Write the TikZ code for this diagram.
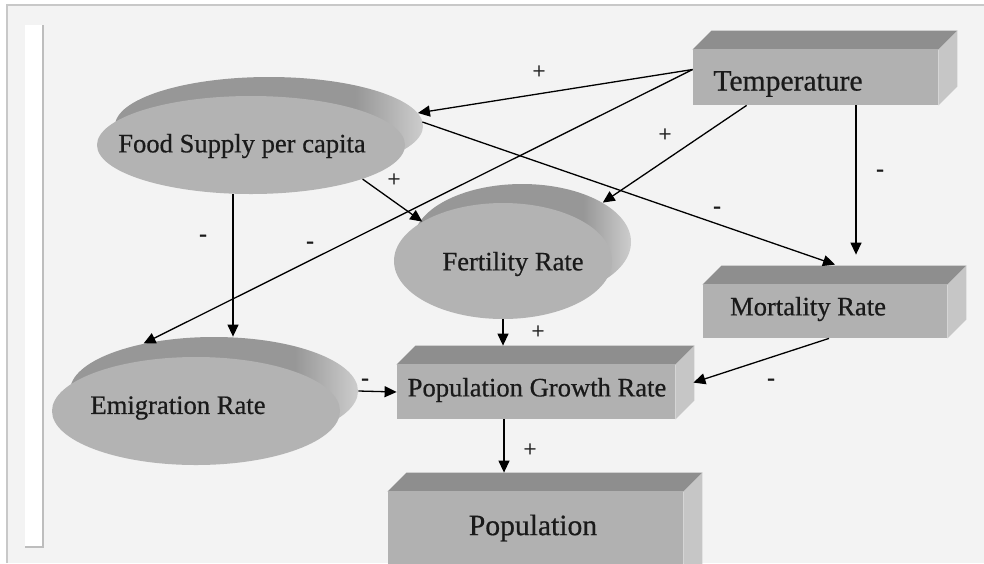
\documentclass[tikz,border=0pt]{standalone}
\usepackage{fontspec}
\setmainfont{Liberation Serif}[FakeBold=0.6]
\newfontfamily\heavyserif{Liberation Serif}[FakeBold=1.2]
\usetikzlibrary{shapes.geometric,arrows.meta,calc}
\definecolor{bgc}{HTML}{F3F3F3}
\definecolor{framec}{HTML}{C8C8C8}
\definecolor{stripc}{HTML}{BDBDBD}
\definecolor{frontc}{HTML}{B1B1B1}
\definecolor{topc}{HTML}{8E8E8E}
\definecolor{sidec}{HTML}{C6C6C6}
\definecolor{ovalc}{HTML}{B3B3B3}
\definecolor{ebk}{HTML}{979797}
\definecolor{ebl}{HTML}{CDCDCD}
\definecolor{txtc}{HTML}{1A1A1A}
\pgfdeclarehorizontalshading{backsh}{100bp}{color(0bp)=(ebk); color(25bp)=(ebk); color(64bp)=(ebk); color(75bp)=(ebl); color(100bp)=(ebl)}
\newcommand\boxfaces[1]{%
  \fill[topc] (#1.north west) -- ++(19,-19) -- ($(#1.north east)+(19,-19)$) -- (#1.north east) -- cycle;
  \fill[sidec] (#1.north east) -- ++(19,-19) -- ($(#1.south east)+(19,-19)$) -- (#1.south east) -- cycle;}
\begin{document}
\begin{tikzpicture}[x=0.5pt,y=-0.5pt,
  box/.style={rectangle, fill=frontc, inner sep=0pt},
  oval/.style={ellipse, fill=ovalc, inner sep=0pt},
  ovalback/.style={ellipse, shade, shading=backsh, inner sep=0pt},
  lbl/.style={text=txtc, font=\fontsize{13.3}{16}\selectfont, inner sep=0pt},
  biglbl/.style={text=txtc, font=\fontsize{14.8}{17}\selectfont, inner sep=0pt},
  sign/.style={text=txtc, font=\fontsize{11.5}{13}\selectfont, inner sep=0pt},
  minus/.style={text=txtc, font=\heavyserif\fontsize{11.5}{13}\selectfont, inner sep=0pt},
  link/.style={-{Triangle[length=6pt,width=5.5pt]}, line width=0.65pt}]
\useasboundingbox (0,0) rectangle (984,563);
\clip (0,0) rectangle (984,563);
% background and frame
\fill[white] (0,0) rectangle (984,563);
\fill[bgc] (7,5) rectangle (984,563);
\draw[framec, line width=1pt] (7,563) -- (7,5) -- (984,5);
\fill[white] (25,25) rectangle (43,547);
\draw[stripc, line width=1pt] (43,25) -- (43,547) -- (25,547);

% boxes
\node[box, minimum width=122.5pt, minimum height=27.5pt] (temp) at (815.5,77.5) {};
\boxfaces{temp}
\node[box, minimum width=122pt, minimum height=26.5pt] (mort) at (825,311.5) {};
\boxfaces{mort}
\node[box, minimum width=139pt, minimum height=27pt] (pgr) at (536,392) {};
\boxfaces{pgr}
\node[box, minimum width=147.5pt, minimum height=48pt] (pop) at (535.5,540) {};
\boxfaces{pop}

% ellipses
\node[ovalback, minimum width=154pt, minimum height=49pt] (foodB) at (269,126) {};
\node[oval, minimum width=154pt, minimum height=49pt] (food) at (251,145) {};
\node[ovalback, minimum width=109pt, minimum height=58pt] (fertB) at (522,242) {};
\node[oval, minimum width=109pt, minimum height=58pt] (fert) at (503,261) {};
\node[ovalback, minimum width=144pt, minimum height=54pt] (emigB) at (214,391) {};
\node[oval, minimum width=144pt, minimum height=54pt] (emig) at (196,411) {};

% texts
\node[biglbl] (tempT) at (788,84) {Temperature};
\node[lbl] (mortT) at (808,309) {Mortality Rate};
\node[lbl] (pgrT) at (537,390) {Population Growth Rate};
\node[biglbl] (popT) at (533,528) {Population};
\node[lbl] (foodT) at (242,146) {Food Supply per capita};
\node[lbl] (fertT) at (513,264) {Fertility Rate};
\node[lbl] (emigT) at (178,408) {Emigration Rate};

% connector end points
\coordinate (tA) at ($(temp.west)+(0,-8)$);
\coordinate (tB) at ($(temp.south west)+(54,0)$);
\coordinate (tC) at ($(temp.south)+(40.5,0)$);
\coordinate (mA) at ($(mort.north)+(31,-30)$);
\coordinate (mB) at ($(mort.north)+(10,-20)$);
\coordinate (fA) at ($(foodB.east)+(-1,-4)$);
\coordinate (fB) at ($(food.south)+(-18,0)$);
\coordinate (eA) at ($(emigB.north)+(19,0)$);
\coordinate (pA) at ($(pgr.north)+(-33,-19)$);
\coordinate (pB) at ($(pgr.north east)+(18,18)$);
\coordinate (mC) at ($(mort.south)+(4,0)$);
\coordinate (pC) at ($(pgr.south)+(-32,0)$);
\coordinate (pD) at ($(pop.north)+(-31.5,-19)$);

% connectors
\draw[link] (tA) -- (foodB.5);
\draw[link] (tA) -- (emigB.146);
\draw[link] (tB) -- (fertB.26);
\draw[link] (tC) -- (mA);
\draw[link] (fA) -- (mB);
\draw[link] (food.343) -- (fert.154);
\draw[link] (fB) -- (eA);
\draw[link] (fert.south) -- (pA);
\draw[link] (emigB.east) -- (pgr.west);
\draw[link] (mC) -- (pB);
\draw[link] (pC) -- (pD);

% signs
\node[sign] (s1) at (539,72) {+};
\node[minus] (s2) at (310,245) {-};
\node[sign] (s3) at (665,135) {+};
\node[minus] (s4) at (880,173) {-};
\node[minus] (s5) at (717,210) {-};
\node[sign] (s6) at (394,180) {+};
\node[minus] (s7) at (203,238) {-};
\node[sign] (s8) at (538,332) {+};
\node[minus] (s9) at (365,382) {-};
\node[minus] (s10) at (771,382) {-};
\node[sign] (s11) at (530,450) {+};
\end{tikzpicture}
\end{document}
